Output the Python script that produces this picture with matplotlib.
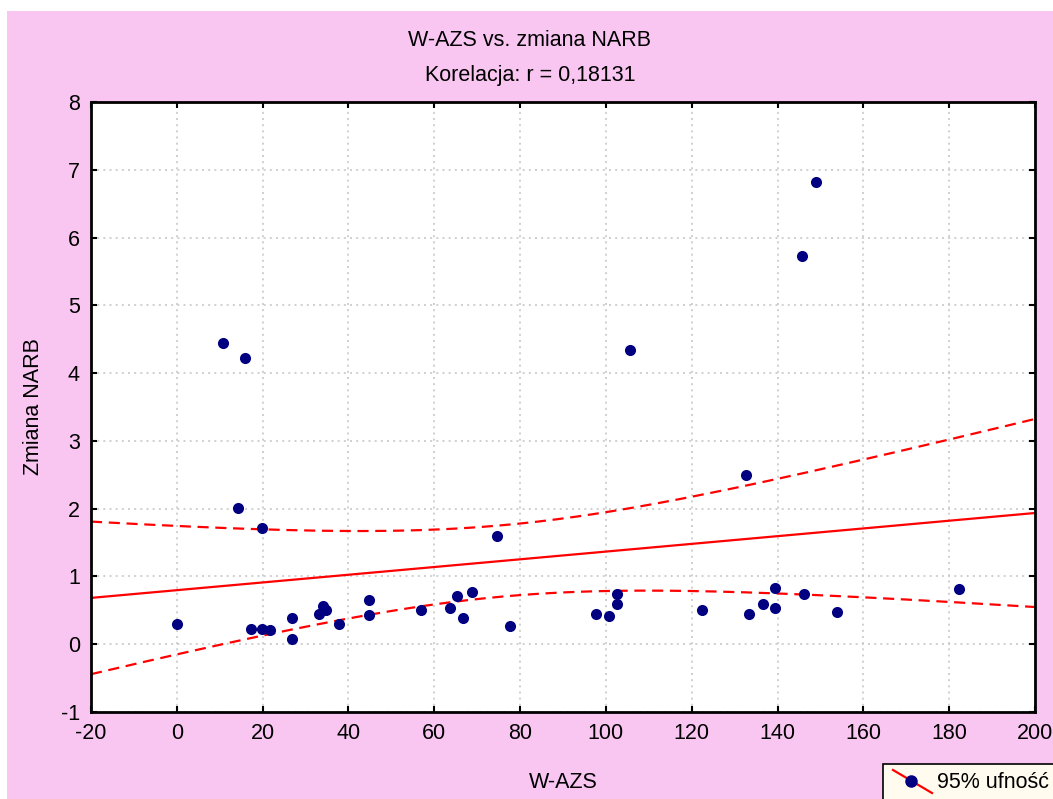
import numpy as np
import matplotlib
matplotlib.use('Agg')
import matplotlib.pyplot as plt
from matplotlib.patches import Rectangle
from matplotlib.lines import Line2D

plt.rcParams['font.family'] = ['Liberation Sans', 'DejaVu Sans']
plt.rcParams['axes.unicode_minus'] = False
fontsize = 15.5

# W-AZS vs. zmiana NARB
w_azs = [0, 10.8, 16, 14.2, 19.8, 17.4, 19.9, 21.7, 26.8, 26.8,
         33.2, 34.1, 34.7, 37.9, 44.8, 44.8, 57.0, 63.6, 65.4, 66.8,
         68.7, 74.6, 77.6, 97.6, 100.8, 102.7, 102.7, 105.5, 122.3, 132.6,
         133.4, 136.7, 139.5, 139.5, 145.6, 146.1, 148.9, 153.9, 182.4]
zmiana_narb = [0.30, 4.44, 4.22, 2.01, 1.72, 0.23, 0.23, 0.21, 0.39, 0.07,
               0.45, 0.57, 0.50, 0.30, 0.65, 0.43, 0.50, 0.53, 0.71, 0.39,
               0.77, 1.60, 0.27, 0.45, 0.42, 0.74, 0.59, 4.34, 0.50, 2.49,
               0.44, 0.59, 0.83, 0.53, 5.73, 0.74, 6.82, 0.47, 0.82]
r_text = '0,18131'

x = np.array(w_azs)
y = np.array(zmiana_narb)

# regresja liniowa + 95% przedzial ufnosci
n = len(x)
b, a = np.polyfit(x, y, 1)
xs = np.linspace(-20, 200, 200)
yfit = a + b * xs
resid = y - (a + b * x)
s = np.sqrt(np.sum(resid ** 2) / (n - 2))
sxx = np.sum((x - x.mean()) ** 2)
t = 2.026
half = t * s * np.sqrt(1 / n + (xs - x.mean()) ** 2 / sxx)

fig = plt.figure(figsize=(10.53, 7.99), dpi=100, facecolor='white')
pink = '#F9C6F2'
fig.patches.append(Rectangle((7 / 1053, 0), 1, 1 - 11 / 799, transform=fig.transFigure,
                             facecolor=pink, edgecolor='none', zorder=-10))

ax = fig.add_axes([91 / 1053, 1 - 712 / 799, (1035 - 91) / 1053, (712 - 102) / 799])
ax.set_facecolor('white')

ax.grid(True, color='#c8c8c8', linestyle=(0, (1.2, 2.5)), linewidth=1.2)
ax.set_axisbelow(True)

ax.plot(xs, yfit, color='red', linewidth=1.6, zorder=2)
ax.plot(xs, yfit + half, color='red', linewidth=1.6, linestyle=(0, (5, 3)), zorder=2)
ax.plot(xs, yfit - half, color='red', linewidth=1.6, linestyle=(0, (5, 3)), zorder=2)
ax.scatter(x, y, s=64, color='#000080', zorder=3, linewidths=0)

ax.set_xlim(-20, 200)
ax.set_ylim(-1, 8)
ax.set_xticks(np.arange(-20, 201, 20))
ax.set_yticks(np.arange(-1, 9, 1))
ax.tick_params(direction='in', length=4, width=1.5, top=True, right=True,
               labelsize=fontsize, pad=8)
for sp in ax.spines.values():
    sp.set_linewidth(2)

ax.set_xlabel('W-AZS', fontsize=fontsize, labelpad=20)
ax.set_ylabel('Zmiana NARB', fontsize=fontsize, labelpad=12)

fig.text(530 / 1053, 1 - 40 / 799, 'W-AZS vs. zmiana NARB', ha='center', va='center',
         fontsize=fontsize)
fig.text(530 / 1053, 1 - 75 / 799, 'Korelacja: r = ' + r_text,
         ha='center', va='center', fontsize=fontsize)

# legenda w prawym dolnym rogu
fig.patches.append(Rectangle((883 / 1053, -0.01), 0.2, (799 - 764) / 799 + 0.01,
                             transform=fig.transFigure, facecolor='#FFFBEE',
                             edgecolor='black', linewidth=1.2, zorder=5))
fig.lines.append(Line2D([893 / 1053, 932 / 1053], [1 - 770 / 799, 1 - 793 / 799],
                        transform=fig.transFigure, color='red', linewidth=1.6, zorder=6))
fig.lines.append(Line2D([911 / 1053], [1 - 781 / 799], transform=fig.transFigure,
                        marker='o', markersize=8, color='#000080', zorder=7))
fig.text(937 / 1053, 1 - 783 / 799, '95% ufność', ha='left', va='center',
         fontsize=fontsize, zorder=8)

fig.savefig('out.png', dpi=100, facecolor=fig.get_facecolor())
